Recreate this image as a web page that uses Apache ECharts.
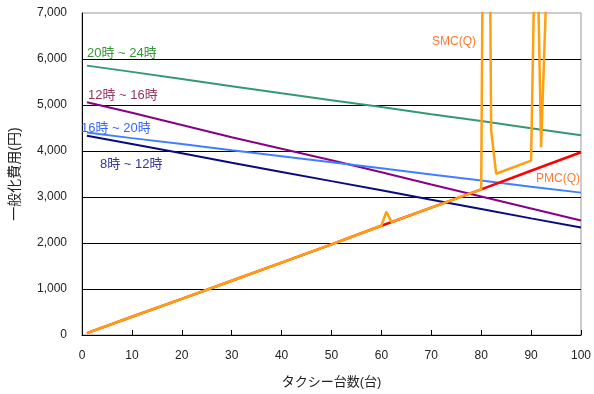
<!DOCTYPE html>
<html>
<head>
<meta charset="utf-8">
<script src="https://cdn.jsdelivr.net/npm/echarts@6/dist/echarts.min.js"></script>
<style>
html,body{margin:0;padding:0;background:#fff;}
#chart{width:594px;height:394px;}
</style>
</head>
<body>
<div id="chart"></div>
<script>
// Data: [taxi count, generalized cost (yen)]
var xTicks = [0, 10, 20, 30, 40, 50, 60, 70, 80, 90, 100];
var yTicks = [0, 1000, 2000, 3000, 4000, 5000, 6000, 7000];

var h20_24 = [[1,5856],[10,5720],[20,5565],[30,5410],[40,5255],[50,5105],[60,4955],[70,4800],[80,4650],[90,4495],[100,4344]];
var h12_16 = [[1,5060],[10,4830],[20,4566],[30,4300],[40,4050],[50,3800],[60,3540],[70,3270],[80,3010],[90,2750],[100,2488]];
var h16_20 = [[1,4400],[10,4280],[20,4150],[30,4015],[40,3885],[50,3755],[60,3625],[70,3490],[80,3360],[90,3225],[100,3095]];
var h8_12  = [[1,4330],[10,4150],[20,3950],[30,3745],[40,3545],[50,3345],[60,3146],[70,2940],[80,2740],[90,2535],[100,2335]];
var pmc    = [[1,40],[10,396],[20,785],[30,1180],[40,1575],[50,1970],[60,2375],[70,2770],[80,3165],[90,3570],[100,3972]];
var smc    = [[1,40],[10,396],[20,785],[30,1180],[40,1575],[50,1970],[60,2375],[61,2680],[62,2455],[70,2770],[80,3165],[81,20000],[82,4450],[83,3505],[90,3790],[91,10000],[92,4080],[93,7300]];

var seriesNames = ['20時 ~ 24時', '12時 ~ 16時', '16時 ~ 20時', '8時 ~ 12時', 'PMC(Q)', 'SMC(Q)'];

var chart = echarts.init(document.getElementById('chart'), null, {renderer:'canvas'});
var FONT = '"Liberation Sans", Arial, "Noto Sans CJK JP", sans-serif';

function fmt(v){ return v.toString().replace(/\B(?=(\d{3})+(?!\d))/g, ','); }

function lineSeries(name, data, color, width, z){
  return {name:name, type:'line', data:data, symbol:'none', clip:true, z:z,
          lineStyle:{color:color, width:width}, itemStyle:{color:color}, animation:false};
}

var option = {
  animation:false,
  backgroundColor:'#fff',
  grid:{left:79, right:11, top:13, bottom:56, show:true, borderColor:'#999', borderWidth:1, backgroundColor:'transparent'},
  xAxis:{
    type:'value', min:xTicks[0], max:xTicks[xTicks.length-1], interval:10,
    name:'タクシー台数(台)', nameLocation:'middle', nameGap:41,
    nameTextStyle:{fontFamily:FONT, fontSize:13, color:'#222'},
    axisLine:{show:true, onZero:false, lineStyle:{color:'#000', width:1}},
    axisTick:{show:true, inside:true, length:5, lineStyle:{color:'#000'}},
    axisLabel:{fontFamily:FONT, fontSize:12, color:'#222', margin:15},
    splitLine:{show:false}
  },
  yAxis:{
    type:'value', min:yTicks[0], max:yTicks[yTicks.length-1], interval:1000,
    name:'一般化費用(円)', nameLocation:'middle', nameGap:60, nameRotate:90,
    nameTextStyle:{fontFamily:FONT, fontSize:14, color:'#222'},
    axisLine:{show:true, lineStyle:{color:'#000', width:1}},
    axisTick:{show:false},
    axisLabel:{fontFamily:FONT, fontSize:12, color:'#222', margin:15, formatter:function(v){return fmt(v);}},
    splitLine:{show:true, showMaxLine:false, lineStyle:{color:'#000', width:1}}
  },
  series:[
    lineSeries(seriesNames[0], h20_24, '#339970', 2, 2),
    lineSeries(seriesNames[1], h12_16, '#880088', 2, 2),
    lineSeries(seriesNames[2], h16_20, '#3f7fff', 2, 2),
    lineSeries(seriesNames[3], h8_12, '#0a0a80', 2, 2),
    lineSeries(seriesNames[4], pmc, '#ff0000', 2.5, 3),
    lineSeries(seriesNames[5], smc, '#ffa010', 2.5, 4)
  ],
  graphic:[
    {type:'text', x:87, y:53, z:10, style:{text:seriesNames[0], fill:'#339933', font:'13px '+FONT, verticalAlign:'middle'}},
    {type:'text', x:88, y:95, z:10, style:{text:seriesNames[1], fill:'#993366', font:'13px '+FONT, verticalAlign:'middle'}},
    {type:'text', x:81, y:128, z:10, style:{text:seriesNames[2], fill:'#3366ff', font:'13px '+FONT, verticalAlign:'middle'}},
    {type:'text', x:100, y:164, z:10, style:{text:seriesNames[3], fill:'#333399', font:'13px '+FONT, verticalAlign:'middle'}},
    {type:'text', x:432, y:42, z:10, style:{text:seriesNames[5], fill:'#ff7a30', font:'12px '+FONT, verticalAlign:'middle'}},
    {type:'text', x:536, y:179, z:10, style:{text:seriesNames[4], fill:'#ff7a30', font:'12px '+FONT, verticalAlign:'middle'}}
  ]
};
chart.setOption(option);
</script>
</body>
</html>
